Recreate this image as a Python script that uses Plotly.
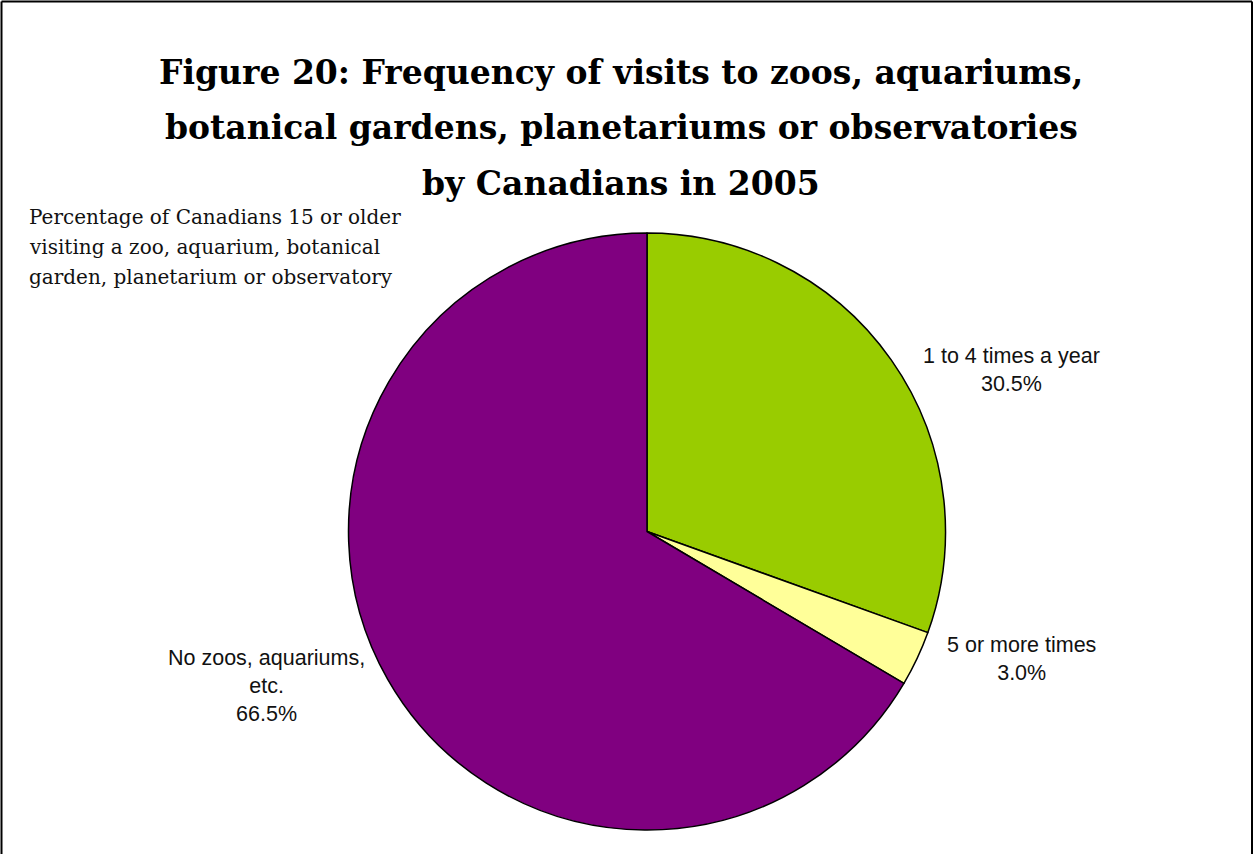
import plotly.graph_objects as go

categories = ["1 to 4 times a year", "5 or more times", "No zoos, aquariums,<br>etc."]
values = [30.5, 3.0, 66.5]
colors = ["#99CC00", "#FFFF99", "#800080"]

W, H = 1254, 854
cx, cy, r = 647, 531.5, 298.5

fig = go.Figure(go.Pie(
    labels=categories, values=values, sort=False, direction="clockwise",
    rotation=0, textinfo="none", hoverinfo="label+percent",
    marker=dict(colors=colors, line=dict(color="black", width=1.5)),
    domain=dict(x=[(cx - r) / W, (cx + r) / W], y=[(H - cy - r) / H, (H - cy + r) / H]),
    showlegend=False,
))

label_pos = [(1011, 370), (1021, 659), (266, 686)]
for cat, val, (x, y) in zip(categories, values, label_pos):
    fig.add_annotation(x=x / W, y=1 - y / H, xref="paper", yref="paper",
                       text=f"{cat}<br>{val:.1f}%", showarrow=False,
                       font=dict(family="Liberation Sans, Arial", size=21.5, color="#111"),
                       align="center", xanchor="center", yanchor="middle")

title_lines = ["Figure 20: Frequency of visits to zoos, aquariums,",
               "botanical gardens, planetariums or observatories",
               "by Canadians in 2005"]
for i, t in enumerate(title_lines):
    fig.add_annotation(x=621 / W, y=1 - (73 + 55 * i) / H, xref="paper", yref="paper",
                       text=f"<b>{t}</b>", showarrow=False, xanchor="center", yanchor="middle",
                       font=dict(family="DejaVu Serif", size=33, color="black"))

sub_lines = ["Percentage of Canadians 15 or older",
             "visiting a zoo, aquarium, botanical",
             "garden, planetarium or observatory"]
for i, t in enumerate(sub_lines):
    fig.add_annotation(x=27 / W, y=1 - (217 + 30 * i) / H, xref="paper", yref="paper",
                       text=t, showarrow=False, xanchor="left", yanchor="middle",
                       font=dict(family="DejaVu Serif", size=20, color="#111"))

for x0, y0, x1, y1 in [(1.5, 1.5, 1.5, H), (1.5, 1.5, 1252, 1.5), (1252, 1.5, 1252, H)]:
    fig.add_shape(type="line", xref="paper", yref="paper",
                  x0=x0 / W, y0=1 - y0 / H, x1=x1 / W, y1=1 - y1 / H,
                  line=dict(color="black", width=2))

fig.update_layout(width=W, height=H, margin=dict(l=0, r=0, t=0, b=0),
                  paper_bgcolor="white", plot_bgcolor="white")
fig.write_html("out.html", config={"displayModeBar": False},
               post_script="document.body.style.margin='0';document.body.style.padding='0';")
